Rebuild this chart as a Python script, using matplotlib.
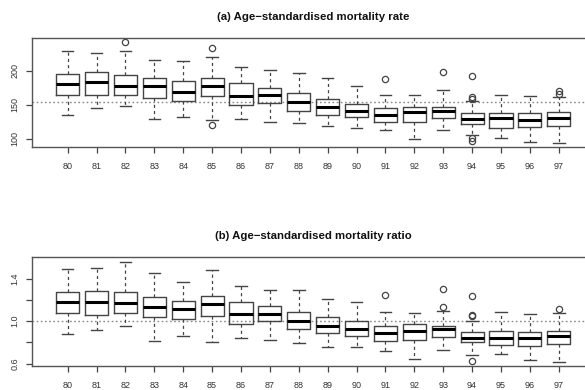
import matplotlib
matplotlib.use("Agg")
import matplotlib.pyplot as plt

plt.rcParams['font.family'] = ['Liberation Sans', 'DejaVu Sans']

years = ["80", "81", "82", "83", "84", "85", "86", "87", "88",
         "89", "90", "91", "92", "93", "94", "95", "96", "97"]

# (a) Age-standardised mortality rate
rate_whislo = [135, 145, 148, 129, 132, 128, 129, 125, 123, 119, 115, 112, 99, 113, 105, 101, 95, 93]
rate_q1     = [165, 165, 165, 160, 156, 163, 150, 152, 141, 135, 132, 125, 125, 131, 122, 116, 117, 119]
rate_med    = [180, 183, 178, 177, 169, 178, 163, 165, 154, 146, 141, 135, 139, 141, 129, 130, 128, 131]
rate_q3     = [196, 199, 194, 189, 185, 189, 182, 174, 168, 158, 151, 145, 146, 147, 138, 138, 138, 139]
rate_whishi = [229, 227, 229, 216, 214, 220, 206, 201, 197, 189, 178, 165, 165, 172, 156, 165, 163, 162]
rate_fliers = [[], [], [242], [], [], [234, 120], [], [], [],
               [], [], [188], [], [198], [193, 161, 159, 101, 97], [], [], [166, 170]]

# (b) Age-standardised mortality ratio
ratio_whislo = [0.88, 0.92, 0.95, 0.81, 0.86, 0.80, 0.84, 0.82, 0.79, 0.76, 0.76, 0.72, 0.645, 0.73, 0.68, 0.69, 0.633, 0.617]
ratio_q1     = [1.075, 1.06, 1.075, 1.04, 1.016, 1.053, 0.978, 1.003, 0.928, 0.887, 0.865, 0.809, 0.821, 0.853, 0.802, 0.777, 0.771, 0.784]
ratio_med    = [1.179, 1.182, 1.173, 1.135, 1.11, 1.166, 1.063, 1.069, 1.003, 0.956, 0.922, 0.89, 0.912, 0.922, 0.846, 0.846, 0.843, 0.859]
ratio_q3     = [1.27, 1.282, 1.27, 1.232, 1.191, 1.235, 1.182, 1.147, 1.088, 1.038, 1.003, 0.953, 0.969, 0.956, 0.896, 0.903, 0.90, 0.909]
ratio_whishi = [1.492, 1.499, 1.558, 1.455, 1.364, 1.477, 1.329, 1.295, 1.289, 1.204, 1.176, 1.088, 1.078, 1.10, 1.003, 1.082, 1.063, 1.075]
ratio_fliers = [[], [], [], [], [], [], [], [], [],
                [], [], [1.248], [], [1.301, 1.135], [1.235, 1.055, 1.05, 0.627], [], [], [1.116]]

rate_ref = 154.4
ratio_ref = 1.0


def make_stats(lo, q1, med, q3, hi, fl):
    return [dict(whislo=a, q1=b, med=c, q3=d, whishi=e, fliers=f)
            for a, b, c, d, e, f in zip(lo, q1, med, q3, hi, fl)]


fig = plt.figure(figsize=(5.85, 3.9), dpi=100)
ax1 = fig.add_axes([0.0554, 0.623, 0.96, 0.2795])
ax2 = fig.add_axes([0.0554, 0.0623, 0.96, 0.278])

edge = '#444444'
positions = list(range(1, len(years) + 1))


def draw(ax, stats, ref, ylim, yticks, ylabels, title):
    ax.axhline(ref, color='#888888', linestyle=(0, (1.2, 1.8)), linewidth=1.0, zorder=1)
    ax.bxp(stats, positions=positions, widths=0.8, showfliers=True,
           boxprops=dict(color=edge, linewidth=1.0),
           medianprops=dict(color='black', linewidth=2.2),
           whiskerprops=dict(color=edge, linewidth=0.9, linestyle=(0, (2.5, 2.5))),
           capprops=dict(color=edge, linewidth=1.0),
           capwidths=0.4,
           flierprops=dict(marker='o', markerfacecolor='none', markeredgecolor=edge,
                           markersize=4.5, markeredgewidth=0.9))
    ax.set_xlim(-0.22, 19.22)
    ax.set_ylim(*ylim)
    ax.set_xticks(positions)
    ax.set_xticklabels(years)
    ax.set_yticks(yticks)
    ax.set_yticklabels(ylabels, rotation=90, va='center')
    ax.tick_params(axis='x', length=4.5, width=0.9, color=edge, pad=6.5, labelsize=6.5, labelcolor='#333333')
    ax.tick_params(axis='y', length=4.5, width=0.9, color=edge, pad=5, labelsize=6.5, labelcolor='#333333')
    for s in ax.spines.values():
        s.set_color('#555555')
        s.set_linewidth(1.0)
    ax.set_title(title, fontsize=8.2, fontweight='bold', pad=13, color='#111111')


draw(ax1, make_stats(rate_whislo, rate_q1, rate_med, rate_q3, rate_whishi, rate_fliers),
     rate_ref, (87.5, 248.5), [100, 150, 200], ["100", "150", "200"],
     "(a) Age\u2212standardised mortality rate")
draw(ax2, make_stats(ratio_whislo, ratio_q1, ratio_med, ratio_q3, ratio_whishi, ratio_fliers),
     ratio_ref, (0.581, 1.601), [0.6, 0.8, 1.0, 1.2, 1.4], ["0.6", "", "1.0", "", "1.4"],
     "(b) Age\u2212standardised mortality ratio")

fig.savefig("out.png", dpi=100)
